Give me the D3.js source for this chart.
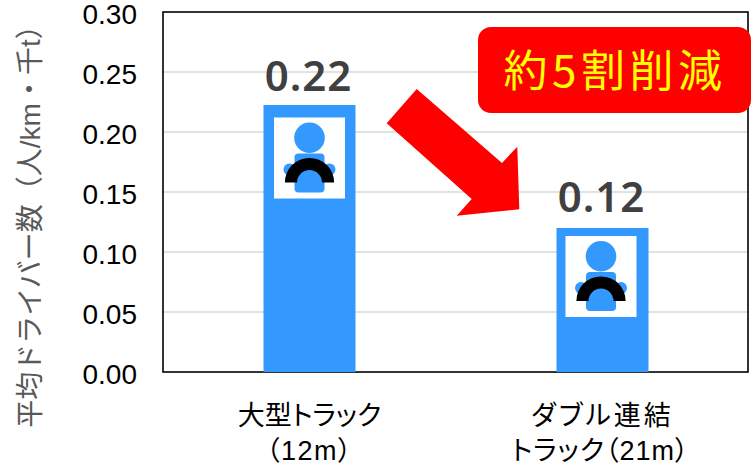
<!DOCTYPE html>
<html><head><meta charset="utf-8">
<script src="https://cdnjs.cloudflare.com/ajax/libs/d3/7.8.5/d3.min.js"></script>
<style>html,body{margin:0;padding:0;background:#fff}svg{display:block}</style>
</head><body><svg id="c" width="753" height="467"></svg>
<script>
const categories = ["large", "double"];
const categoryLines = [["大型トラック", "（12m）"], ["ダブル連結", "トラック（21m）"]];
const values = [0.2225, 0.12];
const valueLabels = ["0.22", "0.12"];
const yTicks = [0, 0.05, 0.10, 0.15, 0.20, 0.25, 0.30];
const yTitle = "平均ドライバー数（人/km・千t）";
const callout = "約5割削減";
const jp = "'Noto Sans CJK JP','Noto Sans',sans-serif";
const latin = "'Liberation Sans',Arial,sans-serif";
const mixed = "'Liberation Sans','Noto Sans CJK JP',sans-serif";

const svg = d3.select("#c");
const L = 163, R = 748, T = 12, B = 372;
const y = d3.scaleLinear().domain([0, 0.30]).range([B, T]);
const x = d3.scaleBand().domain(categories).range([L, R + 1]).paddingInner(0.686).paddingOuter(0.343);

svg.append("g").selectAll("line").data(yTicks.slice(1, -1)).join("line")
  .attr("x1", L).attr("x2", R).attr("y1", d => y(d)).attr("y2", d => y(d))
  .attr("stroke", "#d9d9d9").attr("stroke-width", 1.5);

svg.append("rect").attr("x", L).attr("y", T).attr("width", R - L).attr("height", B - T)
  .attr("fill", "none").attr("stroke", "#000").attr("stroke-width", 1.6);

const ax = svg.append("g").attr("transform", `translate(${L},0)`)
  .call(d3.axisLeft(y).tickValues(yTicks).tickFormat(d3.format(".2f")).tickSize(0).tickPadding(26));
ax.select(".domain").remove();
ax.selectAll("text").attr("font-family", latin).attr("font-size", 28).attr("fill", "#000").attr("dy", "0.4em");

svg.append("g").selectAll("rect").data(categories).join("rect")
  .attr("x", d => x(d)).attr("width", x.bandwidth())
  .attr("y", (d, i) => y(values[i])).attr("height", (d, i) => B - y(values[i]))
  .attr("fill", "#3399ff");

categories.forEach((c, i) => {
  const g = svg.append("g").attr("transform", `translate(${x(c) + x.bandwidth() / 2 - i * 1.5},${y(values[i]) + (i ? -4.5 : 0)})`);
  g.append("rect").attr("x", -35.5).attr("y", 12.5).attr("width", 71).attr("height", 81).attr("fill", "#fff");
  g.append("circle").attr("cx", 0).attr("cy", 32.8).attr("r", 15.3).attr("fill", "#3399ff");
  g.append("rect").attr("x", -15).attr("y", 48.5).attr("width", 30).attr("height", 39).attr("rx", 4).attr("fill", "#3399ff");
  g.append("circle").attr("cx", -20).attr("cy", 64.5).attr("r", 6).attr("fill", "#3399ff");
  g.append("circle").attr("cx", 20).attr("cy", 64.5).attr("r", 6).attr("fill", "#3399ff");
  g.append("path").attr("transform", "translate(0,77.5)")
    .attr("d", d3.arc().innerRadius(12.5).outerRadius(24.6).startAngle(-Math.PI / 2).endAngle(Math.PI / 2)())
    .attr("fill", "#000");
});

svg.append("g").selectAll("text").data(categories).join("text")
  .attr("x", d => x(d) + x.bandwidth() / 2 - 1)
  .attr("y", (d, i) => y(values[i]) - (i ? 16 : 14))
  .attr("text-anchor", "middle").attr("font-family", "'Noto Sans',sans-serif").attr("font-weight", 600)
  .attr("font-size", 42).attr("letter-spacing", 1).attr("fill", "#404040")
  .text((d, i) => valueLabels[i]);

const lineSpacing = [[0, 1.5], [3, 1]];
categories.forEach((c, i) => {
  categoryLines[i].forEach((t, j) => {
    svg.append("text").attr("x", x(c) + x.bandwidth() / 2 + (i === 1 && j === 1 ? -2 : 0))
      .attr("y", 425 + j * 35).attr("text-anchor", "middle")
      .attr("font-family", mixed).attr("font-size", 27).attr("fill", "#000")
      .attr("letter-spacing", lineSpacing[i][j])
      .style("font-feature-settings", "'palt'").text(t);
  });
});

svg.append("text").attr("transform", "translate(30,219.5) rotate(-90)")
  .attr("text-anchor", "middle").attr("dominant-baseline", "central")
  .attr("font-family", mixed).attr("font-size", 28).attr("fill", "#595959").text(yTitle);

svg.append("path")
  .attr("d", d3.line()([[416.7,89],[386.7,123.3],[471.7,199],[456.7,215.7],[519.3,209.3],[517.3,146.7],[502,163]]) + "Z")
  .attr("fill", "#ff0000");

svg.append("rect").attr("x", 478).attr("y", 27).attr("width", 273).attr("height", 86).attr("rx", 13).attr("fill", "#ff0000");
svg.append("text").attr("x", 615).attr("y", 87).attr("text-anchor", "middle")
  .attr("font-family", jp).attr("font-size", 44).attr("letter-spacing", 4.5).attr("fill", "#ffff00").text(callout);
</script></body></html>
